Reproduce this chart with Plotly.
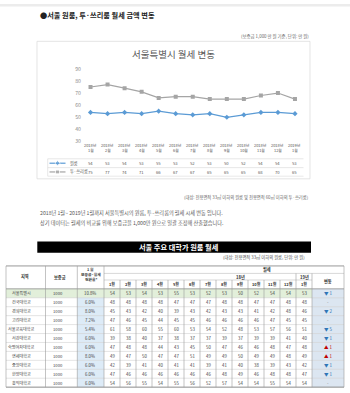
import plotly.graph_objects as go

W, H = 350, 393
FONT = "Noto Sans CJK KR"

# ---------------- line chart data ----------------
chart_years = ["2018년"] * 12 + ["2019년"]
chart_months = ["1월", "2월", "3월", "4월", "5월", "6월", "7월", "8월", "9월", "10월", "11월", "12월", "1월"]
oneroom = [54, 53, 54, 53, 55, 53, 52, 53, 50, 52, 54, 54, 53]
tworoom = [75, 77, 74, 71, 66, 67, 67, 65, 65, 65, 68, 70, 65]
yticks = [30, 40, 50, 60, 70, 80, 90]
series_names = ["원룸", "투·쓰리룸"]

# ---------------- table data ----------------
univ = ["서울특별시", "건국대학교", "경희대학교", "고려대학교", "서울교육대학교", "서강대학교",
        "숙명여자대학교", "연세대학교", "중앙대학교", "한양대학교", "홍익대학교"]
deposit = ["1000"] * 11
conv_rate = ["10.8%", "6.0%", "8.0%", "7.2%", "5.4%", "6.0%", "6.0%", "8.0%", "6.0%", "6.0%", "6.0%"]
rent = [
    [54, 53, 54, 53, 55, 53, 52, 53, 50, 52, 54, 54, 53],
    [48, 48, 48, 48, 47, 47, 47, 48, 48, 47, 47, 48, 48],
    [45, 43, 42, 40, 39, 43, 42, 43, 43, 41, 42, 48, 46],
    [47, 46, 45, 44, 45, 45, 46, 46, 46, 46, 47, 45, 45],
    [61, 58, 60, 55, 60, 53, 54, 52, 48, 53, 57, 56, 51],
    [39, 38, 40, 37, 38, 37, 37, 39, 37, 39, 39, 41, 40],
    [47, 48, 48, 44, 43, 45, 50, 47, 46, 46, 48, 47, 48],
    [49, 47, 50, 47, 47, 51, 49, 49, 50, 49, 49, 48, 49],
    [42, 39, 41, 40, 41, 41, 39, 41, 40, 38, 39, 43, 42],
    [47, 46, 46, 46, 46, 46, 46, 48, 49, 46, 48, 48, 47],
    [54, 56, 55, 54, 55, 56, 52, 57, 54, 54, 55, 54, 54],
]
change = ["▼ 1", "-", "▼ 2", "-", "▼ 5", "▼ 1", "▲ 1", "▲ 1", "▼ 1", "▼ 1", "-"]
month_hdr = ["1월", "2월", "3월", "4월", "5월", "6월", "7월", "8월", "9월", "10월", "11월", "12월", "1월"]

BLUE = "#5b9bd5"
GRAY = "#a5a5a5"

fig = go.Figure()
ann = []
shp = []

# page coordinate system = x / y ; chart = x2 / y2
PX, PY = "x", "y"
CX, CY = "x2", "y2"


def T(x, y, text, size, color="#404040", anchor="center", xref=PX, bold=False):
    if bold:
        text = "<b>" + text + "</b>"
    ann.append(dict(x=x, y=y, xref=xref, yref=PY, text=text, showarrow=False,
                    xanchor=anchor, yanchor="middle",
                    font=dict(family=FONT, size=size, color=color)))


def R(x0, y0, x1, y1, fill=None, line=None, w=0.6, xref=PX, layer="below"):
    shp.append(dict(type="rect", x0=x0, y0=y0, x1=x1, y1=y1, xref=xref, yref=PY,
                    fillcolor=fill if fill else "rgba(0,0,0,0)",
                    line=dict(color=line if line else "rgba(0,0,0,0)", width=w if line else 0),
                    layer=layer))


def L(x0, y0, x1, y1, color="#bfbfbf", w=0.6, xref=PX, layer="below"):
    shp.append(dict(type="line", x0=x0, y0=y0, x1=x1, y1=y1, xref=xref, yref=PY,
                    line=dict(color=color, width=w), layer=layer))


# top faint band
R(0, 0, W, 2.5, fill="#ececec")

# headings
T(37.5, 11.5, "●서울 원룸, 투·쓰리룸 월세 금액 변동", 7.2, "#222222", "left", bold=True)
T(311, 33.5, "(보증금 1,000 만 원 기준, 단위: 만 원)", 4.4, "#666666", "right")

# chart box
R(37, 38, 310, 178, fill="white", line="#d9d9d9", w=0.7)
T(173.5, 50.5, "서울특별시 월세 변동", 9.5, "#595959")

# legend keys inside the data table (page coords)
for yy, col, sym, name in ((162.1, BLUE, "diamond", series_names[0]), (171.0, GRAY, "square", series_names[1])):
    fig.add_trace(go.Scatter(x=[49.5, 57.5, 65.5], y=[yy, yy, yy], mode="lines+markers",
                             line=dict(color=col, width=1.2),
                             marker=dict(symbol=sym, size=[0, 4, 0], color=col),
                             xaxis=PX, yaxis=PY, showlegend=False, hoverinfo="skip"))
    T(67.5, yy, name, 4.2, "#595959", "left")

# line chart traces
xs = list(range(len(oneroom)))
fig.add_trace(go.Scatter(x=xs, y=oneroom, mode="lines+markers", name=series_names[0],
                         line=dict(color=BLUE, width=1.2),
                         marker=dict(symbol="diamond", size=4, color=BLUE),
                         xaxis=CX, yaxis=CY, showlegend=False))
fig.add_trace(go.Scatter(x=xs, y=tworoom, mode="lines+markers", name=series_names[1],
                         line=dict(color=GRAY, width=1.2),
                         marker=dict(symbol="square", size=4, color=GRAY),
                         xaxis=CX, yaxis=CY, showlegend=False))

# vertical gridlines through chart and its data table
for i in range(len(xs) + 1):
    L(i - 0.5, 66, i - 0.5, 175.3, color="#d9d9d9", w=0.6, xref=CX)
# axis line and data table lines
L(-0.5, 140, len(xs) - 0.5, 140, color="#d9d9d9", w=0.6, xref=CX)
for yy in (157.6, 166.6, 175.3):
    L(47.7, yy, 303.5, yy, color="#d9d9d9", w=0.6)
L(47.7, 157.6, 47.7, 175.3, color="#d9d9d9", w=0.6)

for i in xs:
    T(i, 143.3, chart_years[i], 3.9, "#595959", xref=CX)
    T(i, 148.8, chart_months[i], 3.9, "#595959", xref=CX)
    T(i, 162.1, str(oneroom[i]), 4.2, "#595959", xref=CX)
    T(i, 171.0, str(tworoom[i]), 4.2, "#595959", xref=CX)

# captions
T(311, 196.5, "(대상: 전용면적 33㎡ 이하의 원룸 및 전용면적 60㎡ 이하의 투·쓰리룸)", 4.3, "#666666", "right")
T(37.5, 212.6, "2018년 1월~ 2019년 1월까지 서울특별시의 원룸, 투·쓰리룸의 월세 시세 변동 입니다.", 5.2, "#595959", "left")
T(37.5, 223.4, "상기 데이터는 월세의 비교를 위해 보증금을 1,000만 원으로 일괄 조정해 산출했습니다.", 5.2, "#595959", "left")

# black title bar
R(37.3, 241.7, 311, 253.3, fill="#000000")
T(178, 247.6, "서울 주요 대학가 원룸 월세", 7.2, "white", bold=True)
T(307, 258.3, "(대상: 전용면적 33㎡ 이하의 원룸, 단위: 만 원)", 4.3, "#555555", "right")

# ---------------- big table ----------------
X0, XR, XB, XC = 6, 45.5, 77.3, 104.0
CW = 16.0
NM = len(month_hdr)
XM = [XC + CW * k for k in range(NM + 1)]
XEND = 344
YT, Y1, Y2, YH = 266.7, 274.3, 281.0, 290.0
RH = 9.1
nrow = len(univ)
YB = YH + RH * nrow

# fills
for r in range(nrow):
    y0 = YH + RH * r
    if r == 0:
        R(X0, y0, XM[-1], y0 + RH, fill="#e2efda")
    else:
        R(XB, y0, XC, y0 + RH, fill="#ddebf7")
    R(XM[-1], y0, XEND, y0 + RH, fill="#dce6f1")

# horizontal lines
L(X0, YT, XEND, YT, color="#7f7f7f", w=0.8)
L(XC, Y1, XEND, Y1, color="#bfbfbf")
L(XC, Y2, XM[-1], Y2, color="#bfbfbf")
L(X0, YH, XEND, YH, color="#7f7f7f", w=0.7)
for r in range(1, nrow):
    L(X0, YH + RH * r, XEND, YH + RH * r, color="#c8c8c8", w=0.5)
L(X0, YB, XEND, YB, color="#7f7f7f", w=0.9)

# vertical lines
for xx in (X0, XR, XB, XC, XEND):
    L(xx, YT, xx, YB, color="#9a9a9a", w=0.6)
L(XM[-2], Y1, XM[-2], YB, color="#9a9a9a", w=0.6)
L(XM[-1], Y1, XM[-1], YB, color="#9a9a9a", w=0.6)
for k in range(1, NM - 1):
    L(XM[k], Y2, XM[k], YB, color="#9a9a9a", w=0.6)

# header texts
HC = "#333333"
T(25, 277.5, "지역", 4.2, HC, bold=True)
T(60, 277.5, "보증금", 4.2, HC, bold=True)
T(90.7, 270.8, "1 월", 3.8, HC, bold=True)
T(90.7, 275.8, "보증금·월세", 3.8, HC, bold=True)
T(90.7, 280.8, "전환율*", 3.8, HC, bold=True)
T(266.7, 270.6, "월세", 4.2, HC, bold=True)
T(240, 277.7, "18년", 4.2, HC, bold=True)
T((XM[-2] + XM[-1]) / 2, 277.7, "19년", 4.2, HC, bold=True)
T((XM[-1] + XEND) / 2, 281.7, "변동", 4.2, HC, bold=True)
for k in range(NM):
    T((XM[k] + XM[k + 1]) / 2, 285.5, month_hdr[k], 4.0, HC, bold=True)

# body texts
for r in range(nrow):
    yc = YH + RH * (r + 0.5)
    T(21, yc, univ[r], 4.1, "#404040")
    T(58, yc, deposit[r], 4.2, "#404040")
    T(89.5, yc, conv_rate[r], 4.3, "#404040")
    for k in range(NM):
        T((XM[k] + XM[k + 1]) / 2, yc, str(rent[r][k]), 4.3, "#404040")
    c = change[r]
    col = "#2e75b6" if c.startswith("▼") else ("#c00000" if c.startswith("▲") else "#7f7f7f")
    T((XM[-1] + XEND) / 2, yc, c, 4.5, col)

fig.update_layout(
    width=W, height=H,
    margin=dict(l=0, r=0, t=0, b=0),
    paper_bgcolor="white", plot_bgcolor="rgba(0,0,0,0)",
    showlegend=False,
    xaxis=dict(domain=[0, 1], range=[0, W], visible=False, anchor="y", fixedrange=True),
    yaxis=dict(domain=[0, 1], range=[H, 0], visible=False, anchor="x", fixedrange=True),
    xaxis2=dict(domain=[82 / W, 303.5 / W], range=[-0.5, len(xs) - 0.5], showgrid=False,
                zeroline=False, showticklabels=False, showline=False, fixedrange=True, anchor="y2"),
    yaxis2=dict(domain=[1 - 140 / H, 1 - 66 / H], range=[30, 90], tickvals=yticks,
                showgrid=False, zeroline=False, showline=False, ticks="", anchor="x2",
                tickfont=dict(family=FONT, size=5.2, color="#8c8c8c"), fixedrange=True),
    annotations=ann, shapes=shp,
)

fig.write_html("out.html")
